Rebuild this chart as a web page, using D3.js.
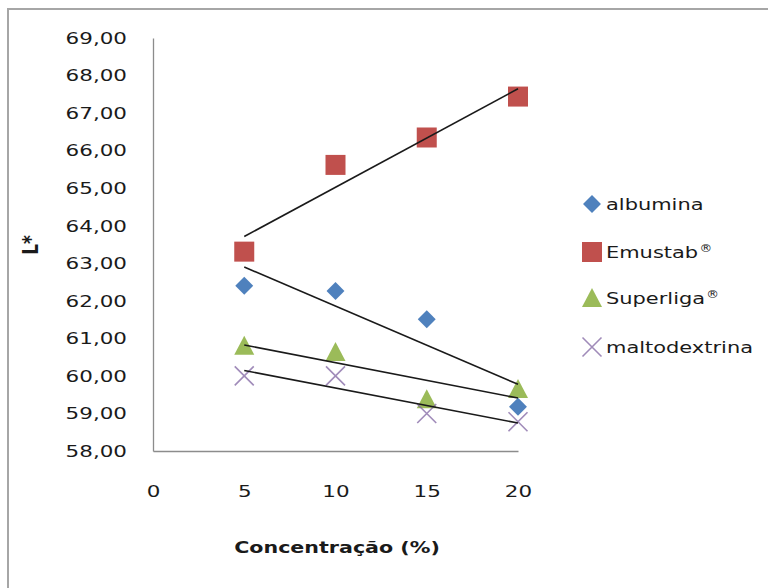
<!DOCTYPE html>
<html><head><meta charset="utf-8">
<script src="https://cdn.jsdelivr.net/npm/d3@7"></script>
<style>body{margin:0;background:#fff}svg{display:block}</style>
</head><body>
<svg id="c" width="768" height="588"></svg>
<script>
const xValues = [5, 10, 15, 20];
const albumina = [62.40, 62.26, 61.51, 59.18];
const emustab = [63.31, 65.62, 66.35, 67.44];
const superliga = [60.80, 60.64, 59.38, 59.65];
const maltodextrina = [60.00, 60.00, 59.00, 58.78];
const seriesNames = ["albumina", "Emustab\u00AE", "Superliga\u00AE", "maltodextrina"];
const xTicks = [0, 5, 10, 15, 20];
const yTicks = [58, 59, 60, 61, 62, 63, 64, 65, 66, 67, 68, 69];

const colors = ["#4F81BD", "#C0504D", "#9BBB59", "#8064A2"];
const shapes = ["diamond", "square", "triangle", "x"];
const allSeries = [albumina, emustab, superliga, maltodextrina];

const svg = d3.select("#c");
const font = "'DejaVu Sans', Verdana, sans-serif";
const SX = 1.3;

// outer border
svg.append("rect").attr("x", 8).attr("y", 9).attr("width", 770).attr("height", 600)
  .attr("fill", "#fff").attr("stroke", "#a6a6a6").attr("stroke-width", 2);

const x = d3.scaleLinear().domain([0, 20]).range([153, 518]);
const y = d3.scaleLinear().domain([58, 69]).range([451, 38]);

// axes
const yAxis = d3.axisLeft(y).tickValues(yTicks).tickSize(0).tickPadding(20)
  .tickFormat(d => d3.format(".2f")(d).replace(".", ","));
const gy = svg.append("g").attr("transform", "translate(153,0)").call(yAxis);
gy.select(".domain").attr("stroke", "#8c8c8c").attr("stroke-width", 1.3);
gy.selectAll("text").attr("font-family", font).attr("font-size", 16.5).attr("fill", "#1a1a1a")
  .attr("transform", `scale(${SX},1)`);

const xAxis = d3.axisBottom(x).tickValues(xTicks).tickSize(0).tickPadding(34)
  .tickFormat(d3.format("d"));
const gx = svg.append("g").attr("transform", "translate(0,451)").call(xAxis);
gx.select(".domain").attr("stroke", "#8c8c8c").attr("stroke-width", 1.3);
gx.selectAll("text").attr("font-family", font).attr("font-size", 16.5).attr("fill", "#1a1a1a")
  .attr("transform", `scale(${SX},1)`);

// axis titles
svg.append("text").attr("transform", `translate(337,553) scale(1.25,1)`).attr("text-anchor", "middle")
  .attr("font-family", font).attr("font-size", 16.5).attr("font-weight", "bold").attr("fill", "#1a1a1a")
  .text("Concentração (%)");
svg.append("text").attr("transform", "translate(38,245) rotate(-90) scale(1,1.25)").attr("text-anchor", "middle")
  .attr("font-family", font).attr("font-size", 17).attr("font-weight", "bold").attr("fill", "#1a1a1a")
  .text("L*");

function marker(g, shape, color, cx, cy) {
  if (shape === "diamond") {
    g.append("path").attr("d", d3.symbol().type(d3.symbolDiamond2).size(205)())
      .attr("transform", `translate(${cx},${cy})`).attr("fill", color);
  } else if (shape === "square") {
    g.append("rect").attr("x", cx - 10).attr("y", cy - 10).attr("width", 20).attr("height", 20).attr("fill", color);
  } else if (shape === "triangle") {
    g.append("path").attr("d", `M${cx},${cy - 10}L${cx + 10},${cy + 9}L${cx - 10},${cy + 9}Z`).attr("fill", color);
  } else {
    g.append("path").attr("d", `M${cx - 9.5},${cy - 9.5}L${cx + 9.5},${cy + 9.5}M${cx - 9.5},${cy + 9.5}L${cx + 9.5},${cy - 9.5}`)
      .attr("stroke", color).attr("stroke-width", 1.6).attr("opacity", 0.75).attr("fill", "none");
  }
}

// markers
const gm = svg.append("g");
allSeries.forEach((vals, i) => {
  vals.forEach((v, j) => marker(gm, shapes[i], colors[i], x(xValues[j]), y(v)));
});

// linear trend lines (least squares)
function fit(xs, ys) {
  const mx = d3.mean(xs), my = d3.mean(ys);
  const b = d3.sum(xs.map((xv, k) => (xv - mx) * (ys[k] - my))) / d3.sum(xs.map(xv => (xv - mx) ** 2));
  return xv => my + b * (xv - mx);
}
const gt = svg.append("g");
allSeries.forEach(vals => {
  const f = fit(xValues, vals);
  const x0 = d3.min(xValues), x1 = d3.max(xValues);
  gt.append("line").attr("x1", x(x0)).attr("y1", y(f(x0))).attr("x2", x(x1)).attr("y2", y(f(x1)))
    .attr("stroke", "#1a1a1a").attr("stroke-width", 1.6);
});

// legend
const legY = [204, 252, 298, 347];
const gl = svg.append("g");
seriesNames.forEach((n, i) => {
  marker(gl, shapes[i], colors[i], 592, legY[i]);
  const t = gl.append("text").attr("transform", `translate(606,${legY[i]}) scale(1.27,1)`).attr("dy", "0.35em")
    .attr("font-family", font).attr("font-size", 16.5).attr("fill", "#1a1a1a");
  const base = n.replace("\u00AE", "");
  t.append("tspan").text(base);
  if (n.includes("\u00AE")) {
    t.append("tspan").attr("font-size", 10).attr("dy", "-0.6em").attr("dx", 1).text("\u00AE");
  }
});
</script>
</body></html>
